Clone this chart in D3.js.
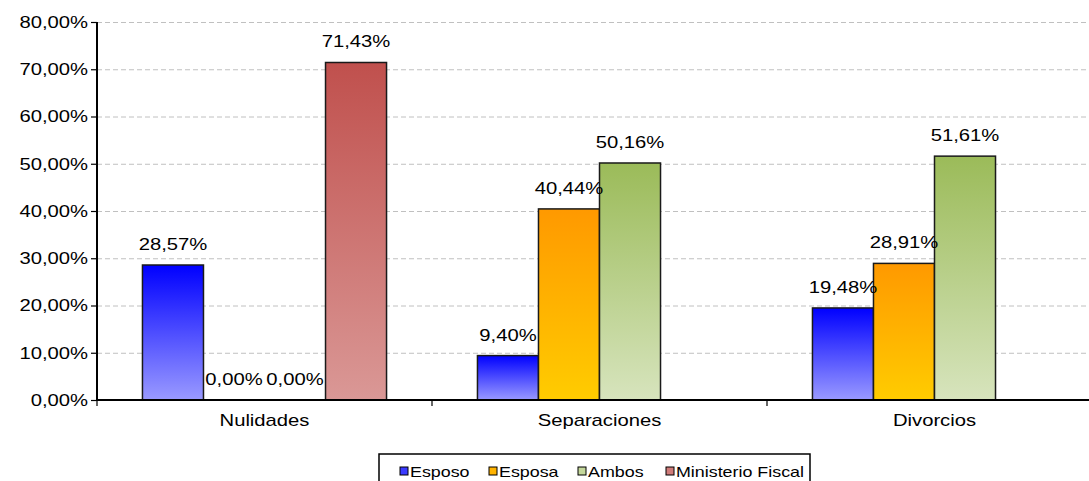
<!DOCTYPE html>
<html><head><meta charset="utf-8">
<script src="https://cdn.jsdelivr.net/npm/d3@7"></script>
<style>body{margin:0;background:#fff}svg{display:block;font-family:"Liberation Sans",Arial,sans-serif}</style>
</head><body>
<svg id="c" width="1089" height="481"></svg>
<script>
const categories = ["Nulidades", "Separaciones", "Divorcios"];
const seriesNames = ["Esposo", "Esposa", "Ambos", "Ministerio Fiscal"];
const esposo = [28.57, 9.40, 19.48];
const esposa = [0.00, 40.44, 28.91];
const ambos = [0.00, 50.16, 51.61];
const ministerio = [71.43, null, null];
const yTicks = [0, 10, 20, 30, 40, 50, 60, 70, 80];

const seriesValues = [esposo, esposa, ambos, ministerio];
const grads = [["#0000ff", "#9a9aff"], ["#ff9900", "#ffcc00"], ["#9bbb59", "#d7e4bd"], ["#c0504d", "#da9896"]];
const legendFill = ["#3a3aff", "#ffb300", "#c4d79b", "#cf7b79"];

const svg = d3.select("#c");
const m = {l: 97, r: 1102, t: 22, b: 400};
const x0 = d3.scaleBand().domain(categories).range([m.l, m.r]).paddingInner(0).paddingOuter(0);
const x1 = d3.scaleBand().domain(seriesNames).range([0, x0.bandwidth()]).paddingInner(0).paddingOuter(0.745);
const y = d3.scaleLinear().domain([0, 80]).range([m.b, m.t]);
const fmt = v => v.toFixed(2).replace(".", ",") + "%";

const defs = svg.append("defs");
grads.forEach((g, i) => {
  const lg = defs.append("linearGradient").attr("id", "g" + i).attr("x1", 0).attr("y1", 0).attr("x2", 0).attr("y2", 1);
  lg.append("stop").attr("offset", "0%").attr("stop-color", g[0]);
  lg.append("stop").attr("offset", "100%").attr("stop-color", g[1]);
});

// gridlines
svg.append("g").selectAll("line").data(yTicks.filter(d => d > 0)).join("line")
  .attr("x1", m.l).attr("x2", 1089).attr("y1", d => y(d) + 0.5).attr("y2", d => y(d) + 0.5)
  .attr("stroke", "#c0c0c0").attr("stroke-dasharray", "5,3").attr("stroke-width", 1);

// bars
const groups = svg.append("g").selectAll("g").data(categories).join("g")
  .attr("transform", d => `translate(${x0(d)},0)`);
groups.each(function(cat, ci) {
  const g = d3.select(this);
  seriesNames.forEach((s, si) => {
    const v = seriesValues[si][ci];
    if (v === null) return;
    if (v > 0) {
      g.append("rect").attr("x", x1(s)).attr("width", x1.bandwidth())
        .attr("y", y(v)).attr("height", y(0) - y(v))
        .attr("fill", `url(#g${si})`).attr("stroke", "#1a1a1a").attr("stroke-width", 1.5);
    }
  });
});
groups.each(function(cat, ci) {
  const g = d3.select(this);
  seriesNames.forEach((s, si) => {
    const v = seriesValues[si][ci];
    if (v === null) return;
    g.append("text").attr("x", x1(s) + x1.bandwidth() / 2).attr("y", y(v) - 15)
      .attr("text-anchor", "middle").attr("font-size", 17).attr("fill", "#000").text(fmt(v));
  });
});

// axes
const yAxis = svg.append("g").attr("transform", `translate(${m.l},0)`)
  .call(d3.axisLeft(y).tickValues(yTicks).tickFormat(d => d.toFixed(2).replace(".", ",") + "%").tickSize(6).tickPadding(3));
yAxis.select(".domain").attr("stroke", "#000").attr("stroke-width", 2).attr("d", `M0,${m.t}V${m.b}`);
yAxis.selectAll(".tick line").attr("stroke", "#000").attr("stroke-width", 1.2);
yAxis.selectAll("text").attr("font-size", 17).attr("fill", "#000").attr("font-family", '"Liberation Sans",Arial,sans-serif');

const xAxis = svg.append("g").attr("transform", `translate(0,${m.b})`)
  .call(d3.axisBottom(x0).tickSize(0).tickPadding(14));
xAxis.select(".domain").attr("stroke", "#000").attr("stroke-width", 2).attr("d", `M${m.l},0H${m.r}`);
xAxis.selectAll("text").attr("font-size", 17).attr("fill", "#000").attr("font-family", '"Liberation Sans",Arial,sans-serif');
// category boundary ticks
svg.append("g").selectAll("line").data(categories).join("line")
  .attr("x1", d => x0(d)).attr("x2", d => x0(d)).attr("y1", m.b).attr("y2", m.b + 6)
  .attr("stroke", "#000").attr("stroke-width", 1.2);

// legend
const lg = svg.append("g");
lg.append("rect").attr("x", 379).attr("y", 454).attr("width", 431).attr("height", 32)
  .attr("fill", "#fff").attr("stroke", "#000").attr("stroke-width", 1.5);
const lx = [400, 489, 578, 666];
seriesNames.forEach((s, i) => {
  lg.append("rect").attr("x", lx[i]).attr("y", 467).attr("width", 8).attr("height", 8)
    .attr("fill", legendFill[i]).attr("stroke", "#000").attr("stroke-width", 1);
  lg.append("text").attr("x", lx[i] + 10).attr("y", 477).attr("font-size", 15).attr("fill", "#000").text(s);
});

// horizontal stretch of text to match reference
svg.selectAll("text").each(function() {
  const w = this.getComputedTextLength();
  d3.select(this).attr("textLength", w * 1.19).attr("lengthAdjust", "spacingAndGlyphs");
});
</script>
</body></html>
